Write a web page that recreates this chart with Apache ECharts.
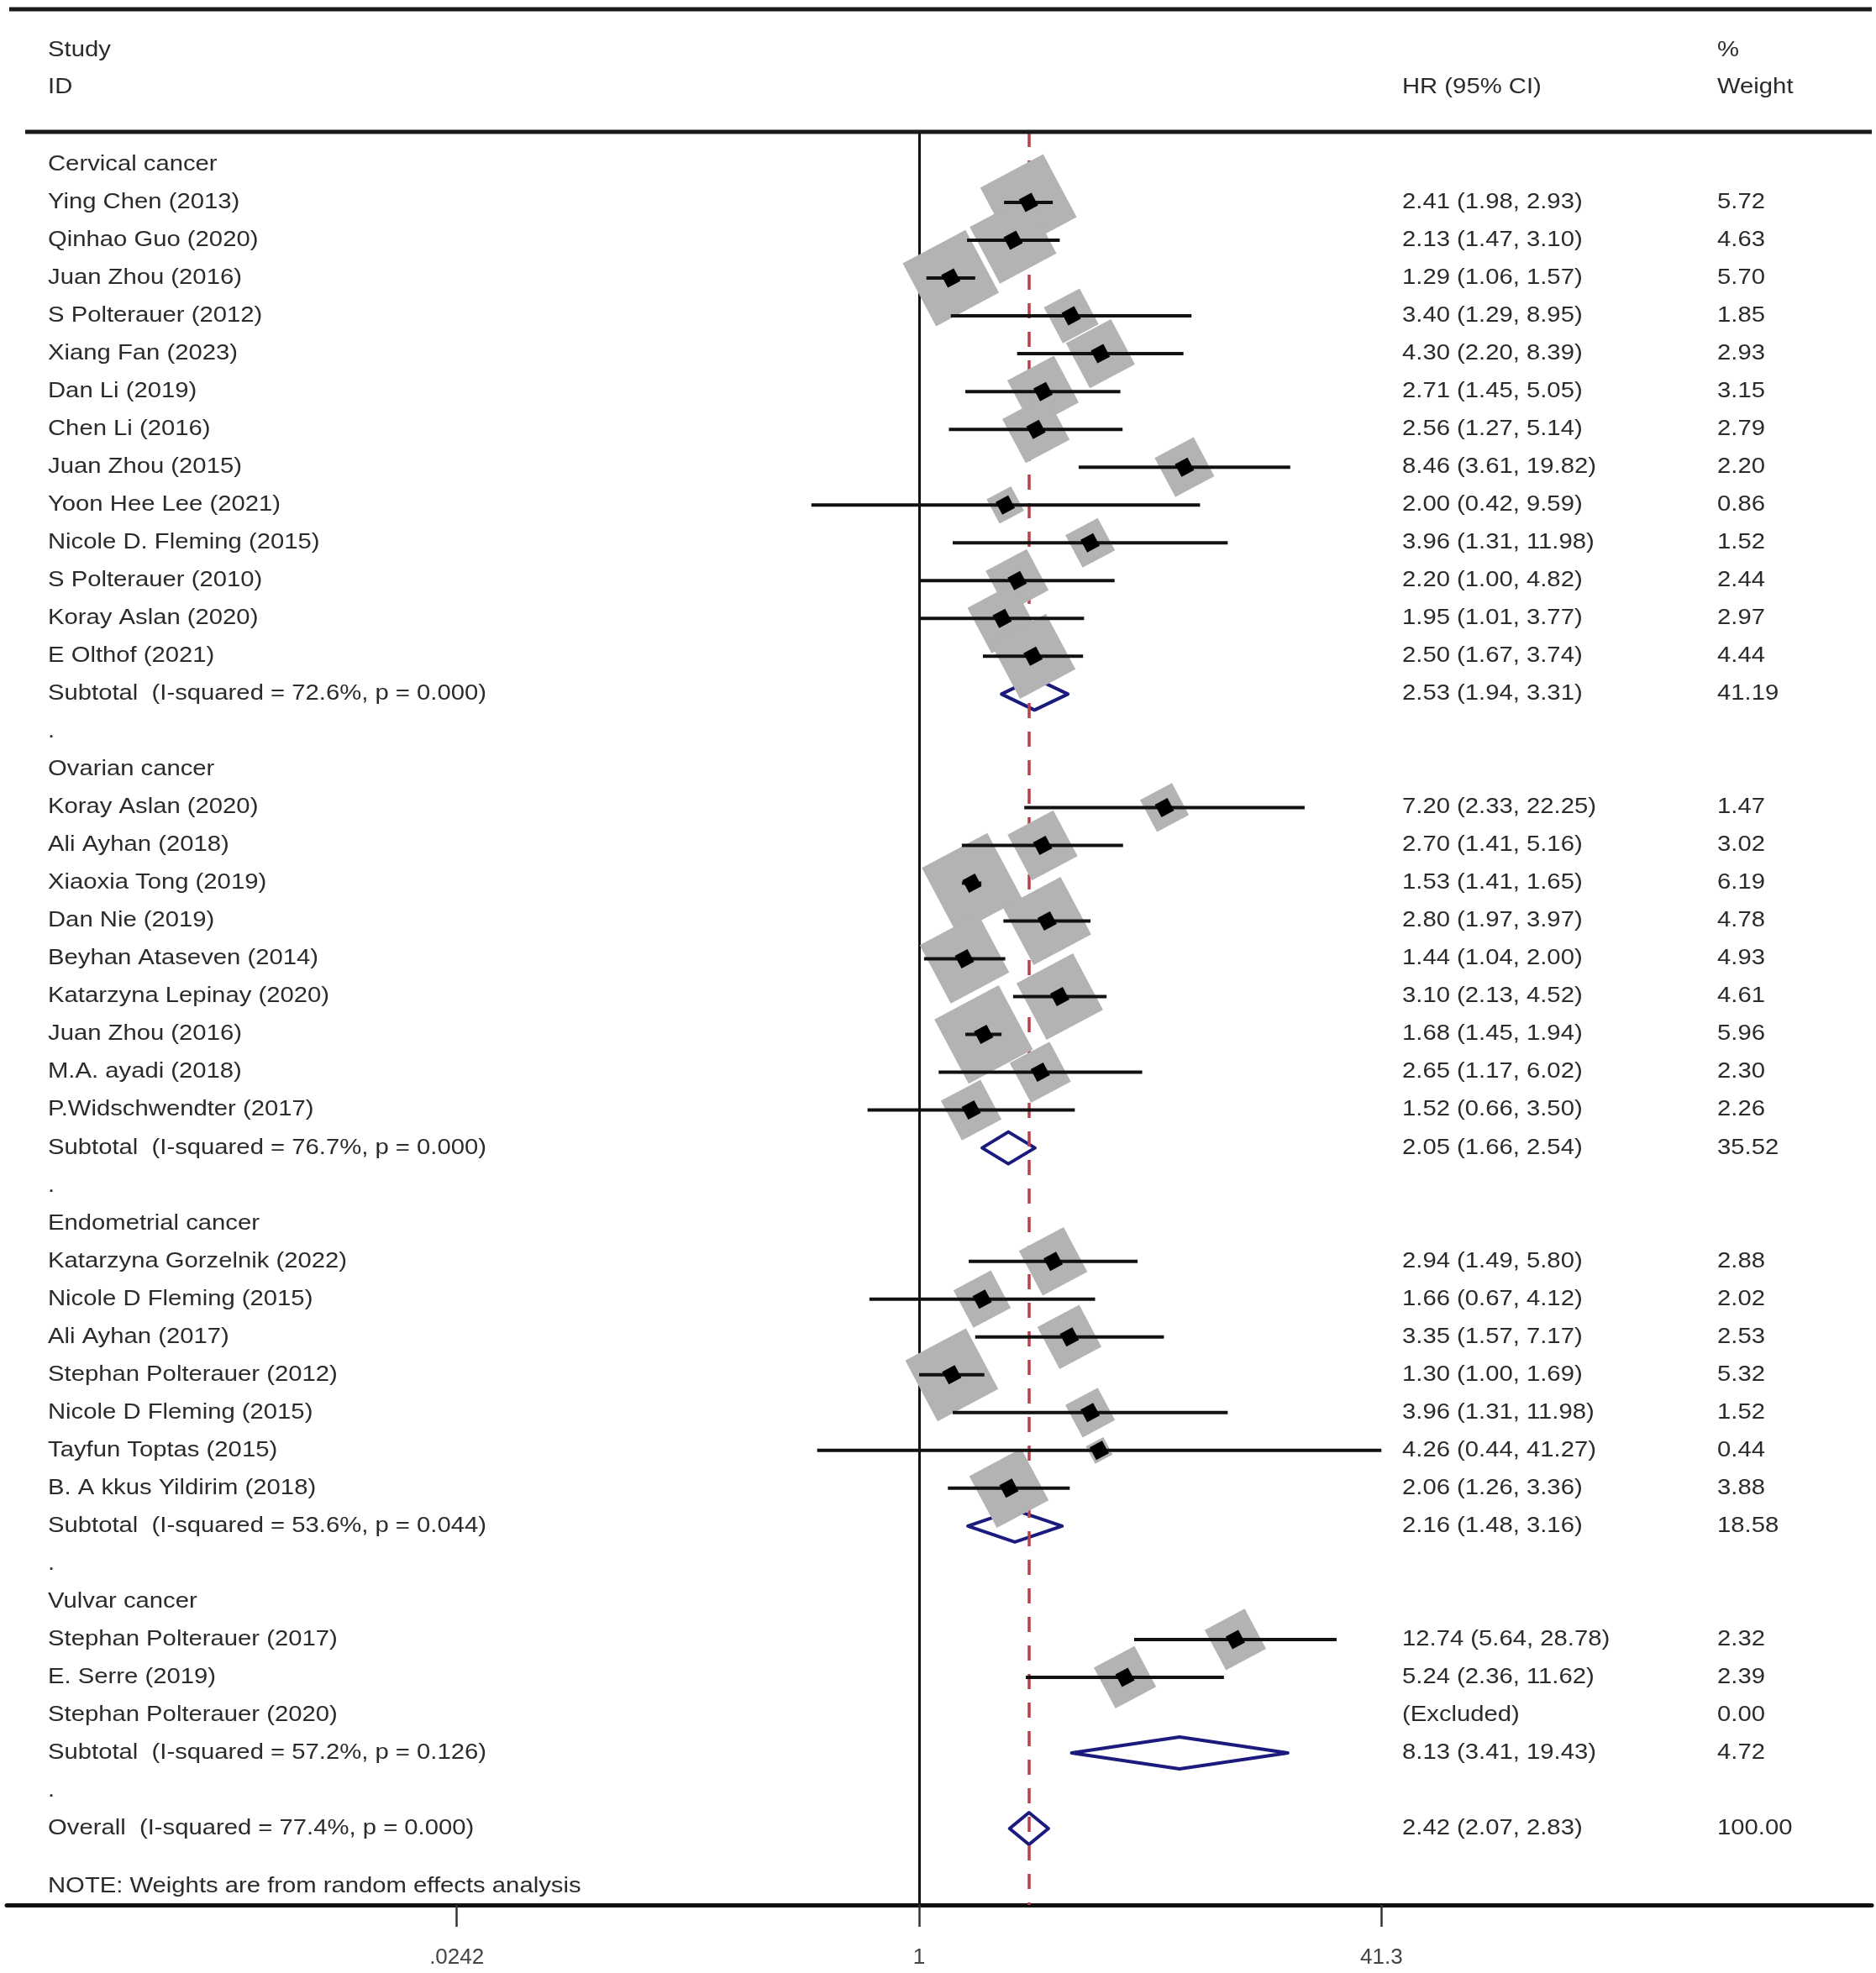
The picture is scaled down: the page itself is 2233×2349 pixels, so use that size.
<!DOCTYPE html>
<html><head><meta charset="utf-8">
<script src="https://cdn.jsdelivr.net/npm/echarts@6/dist/echarts.min.js"></script>
<style>html,body{margin:0;padding:0;background:#fff}#c{width:2233px;height:2349px}</style>
</head><body><div id="c"></div>
<script>
// ---- DATA ----
const rowLabels = [
  'Cervical cancer',
  'Ying Chen (2013)','Qinhao Guo (2020)','Juan Zhou (2016)','S Polterauer (2012)','Xiang Fan (2023)',
  'Dan Li (2019)','Chen Li (2016)','Juan Zhou (2015)','Yoon Hee Lee (2021)','Nicole D. Fleming (2015)',
  'S Polterauer (2010)','Koray Aslan (2020)','E Olthof (2021)',
  'Subtotal  (I-squared = 72.6%, p = 0.000)', '.',
  'Ovarian cancer',
  'Koray Aslan (2020)','Ali Ayhan (2018)','Xiaoxia Tong (2019)','Dan Nie (2019)','Beyhan Ataseven (2014)',
  'Katarzyna Lepinay (2020)','Juan Zhou (2016)','M.A. ayadi (2018)','P.Widschwendter (2017)',
  'Subtotal  (I-squared = 76.7%, p = 0.000)', '.',
  'Endometrial cancer',
  'Katarzyna Gorzelnik (2022)','Nicole D Fleming (2015)','Ali Ayhan (2017)','Stephan Polterauer (2012)',
  'Nicole D Fleming (2015)','Tayfun Toptas (2015)','B. A kkus Yildirim (2018)',
  'Subtotal  (I-squared = 53.6%, p = 0.044)', '.',
  'Vulvar cancer',
  'Stephan Polterauer (2017)','E. Serre (2019)','Stephan Polterauer (2020)',
  'Subtotal  (I-squared = 57.2%, p = 0.126)', '.',
  'Overall  (I-squared = 77.4%, p = 0.000)'
];
// h = group header, s = study, x = excluded study, t = subtotal, d = spacer, o = overall
const rowKinds = [
  'h','s','s','s','s','s','s','s','s','s','s','s','s','s','t','d',
  'h','s','s','s','s','s','s','s','s','s','t','d',
  'h','s','s','s','s','s','s','s','t','d',
  'h','s','s','x','t','d',
  'o'
];
const hrValues = [
  null,2.41,2.13,1.29,3.40,4.30,2.71,2.56,8.46,2.00,3.96,2.20,1.95,2.50,2.53,null,
  null,7.20,2.70,1.53,2.80,1.44,3.10,1.68,2.65,1.52,2.05,null,
  null,2.94,1.66,3.35,1.30,3.96,4.26,2.06,2.16,null,
  null,12.74,5.24,null,8.13,null,
  2.42
];
const ciLower = [
  null,1.98,1.47,1.06,1.29,2.20,1.45,1.27,3.61,0.42,1.31,1.00,1.01,1.67,1.94,null,
  null,2.33,1.41,1.41,1.97,1.04,2.13,1.45,1.17,0.66,1.66,null,
  null,1.49,0.67,1.57,1.00,1.31,0.44,1.26,1.48,null,
  null,5.64,2.36,null,3.41,null,
  2.07
];
const ciUpper = [
  null,2.93,3.10,1.57,8.95,8.39,5.05,5.14,19.82,9.59,11.98,4.82,3.77,3.74,3.31,null,
  null,22.25,5.16,1.65,3.97,2.00,4.52,1.94,6.02,3.50,2.54,null,
  null,5.80,4.12,7.17,1.69,11.98,41.27,3.36,3.16,null,
  null,28.78,11.62,null,19.43,null,
  2.83
];
const weights = [
  null,5.72,4.63,5.70,1.85,2.93,3.15,2.79,2.20,0.86,1.52,2.44,2.97,4.44,41.19,null,
  null,1.47,3.02,6.19,4.78,4.93,4.61,5.96,2.30,2.26,35.52,null,
  null,2.88,2.02,2.53,5.32,1.52,0.44,3.88,18.58,null,
  null,2.32,2.39,0.00,4.72,null,
  100.00
];
const headerLabels = { study: 'Study', id: 'ID', hr: 'HR (95% CI)', pct: '%', weight: 'Weight' };
const noteText = 'NOTE: Weights are from random effects analysis';
const tickValues = [0.0242, 1, 41.3];
const tickLabels = ['.0242', '1', '41.3'];

// ---- STYLE / LAYOUT ----
const FONT = 'Liberation Sans';
const FS = 25, SX = 1.17, TXT = '#2b2b2b';
const COL_LABEL = 57, COL_HR = 1669, COL_W = 2044;

const overallIdx = rowKinds.indexOf('o');

const boxData = [], ciData = [], markerData = [], diamondData = [];
rowKinds.forEach((k, i) => {
  if (k === 's') {
    boxData.push([hrValues[i], i, weights[i]]);
    ciData.push([ciLower[i], ciUpper[i], i]);
    markerData.push([hrValues[i], i]);
  } else if (k === 't' || k === 'o') {
    diamondData.push([ciLower[i], hrValues[i], ciUpper[i], i]);
  }
});
const textData = rowLabels.map((_, i) => [1, i]);

function hrText(i) {
  const k = rowKinds[i];
  if (k === 'x') return '(Excluded)';
  if (hrValues[i] == null) return '';
  return hrValues[i].toFixed(2) + ' (' + ciLower[i].toFixed(2) + ', ' + ciUpper[i].toFixed(2) + ')';
}
function wText(i) { return weights[i] == null ? '' : weights[i].toFixed(2); }

function txt(x, y, s, extra) {
  return Object.assign({
    type: 'text', x: x, y: y, scaleX: SX,
    style: { text: s, x: 0, y: 0, fill: TXT, fontSize: FS, fontFamily: FONT, align: 'left', verticalAlign: 'middle' }
  }, extra || {});
}

const chart = echarts.init(document.getElementById('c'));
chart.setOption({
  animation: false,
  backgroundColor: '#fff',
  grid: { left: 8, right: 5, top: 157, bottom: 81, containLabel: false },
  xAxis: {
    type: 'log', logBase: 10, min: 0.000647, max: 2136,
    axisLine: { show: true, onZero: false, lineStyle: { color: '#111', width: 5 } },
    axisTick: { show: true, customValues: tickValues, length: 26, lineStyle: { color: '#333', width: 2.5 } },
    axisLabel: {
      show: true, customValues: tickValues, margin: 50, fontSize: 26, fontFamily: FONT, color: '#444',
      formatter: function (v) {
        let best = 0;
        tickValues.forEach((t, j) => { if (Math.abs(Math.log(t) - Math.log(v)) < Math.abs(Math.log(tickValues[best]) - Math.log(v))) best = j; });
        return tickLabels[best];
      }
    },
    splitLine: { show: false }
  },
  yAxis: { type: 'value', min: -0.866, max: 46.02, inverse: true, show: false },
  graphic: [
    { type: 'line', shape: { x1: 11, y1: 11, x2: 2228, y2: 11 }, style: { stroke: '#1a1a1a', lineWidth: 5 } },
    { type: 'line', shape: { x1: 30, y1: 157, x2: 2228, y2: 157 }, style: { stroke: '#1a1a1a', lineWidth: 5 }, z: 50 },
    txt(COL_LABEL, 60, headerLabels.study),
    txt(COL_LABEL, 104, headerLabels.id),
    txt(COL_HR, 104, headerLabels.hr),
    txt(COL_W, 60, headerLabels.pct),
    txt(COL_W, 104, headerLabels.weight),
    txt(COL_LABEL, 2246, noteText)
  ],
  series: [
    {
      type: 'custom', name: 'diamonds', z: 1, clip: false,
      encode: { x: [0, 1, 2], y: 3 },
      data: diamondData,
      renderItem: function (params, api) {
        const y = api.value(3);
        const lo = api.coord([api.value(0), y]);
        const c = api.coord([api.value(1), y]);
        const hi = api.coord([api.value(2), y]);
        const h = 19;
        return {
          type: 'polygon',
          shape: { points: [[lo[0], c[1]], [c[0], c[1] - h], [hi[0], c[1]], [c[0], c[1] + h]] },
          style: { fill: 'rgba(0,0,0,0)', stroke: '#1b1b7d', lineWidth: 4, lineJoin: 'round' }
        };
      }
    },
    {
      type: 'scatter', name: 'refs', z: 2, data: [],
      markLine: {
        silent: true, symbol: 'none', z: 2, animation: false,
        label: { show: false },
        data: [
          { xAxis: 1, lineStyle: { color: '#111', width: 3, type: 'solid' } },
          { xAxis: hrValues[overallIdx], lineStyle: { color: '#b8404c', width: 3.5, type: [18, 16] } }
        ]
      }
    },
    {
      type: 'scatter', name: 'boxes', z: 3,
      data: boxData,
      symbol: 'rect', symbolRotate: 28,
      symbolSize: function (v) { return 35.5 * Math.sqrt(v[2]); },
      itemStyle: { color: '#b3b3b3', opacity: 1 },
      silent: true
    },
    {
      type: 'custom', name: 'ci', z: 4, clip: false,
      encode: { x: [0, 1], y: 2 },
      data: ciData,
      renderItem: function (params, api) {
        const y = api.value(2);
        const a = api.coord([api.value(0), y]);
        const b = api.coord([api.value(1), y]);
        return { type: 'line', shape: { x1: a[0], y1: a[1], x2: b[0], y2: b[1] }, style: { stroke: '#111', lineWidth: 4 } };
      }
    },
    {
      type: 'scatter', name: 'markers', z: 5,
      data: markerData,
      symbol: 'rect', symbolRotate: 28, symbolSize: 17,
      itemStyle: { color: '#000', opacity: 1 },
      silent: true
    },
    {
      type: 'custom', name: 'text', z: 6, clip: false,
      encode: { x: 0, y: 1 },
      data: textData,
      renderItem: function (params, api) {
        const i = api.value(1);
        const y = api.coord([1, i])[1];
        return {
          type: 'group',
          children: [
            txt(COL_LABEL, y, rowLabels[i]),
            txt(COL_HR, y, hrText(i)),
            txt(COL_W, y, wText(i))
          ]
        };
      }
    }
  ]
});
</script>
</body></html>
